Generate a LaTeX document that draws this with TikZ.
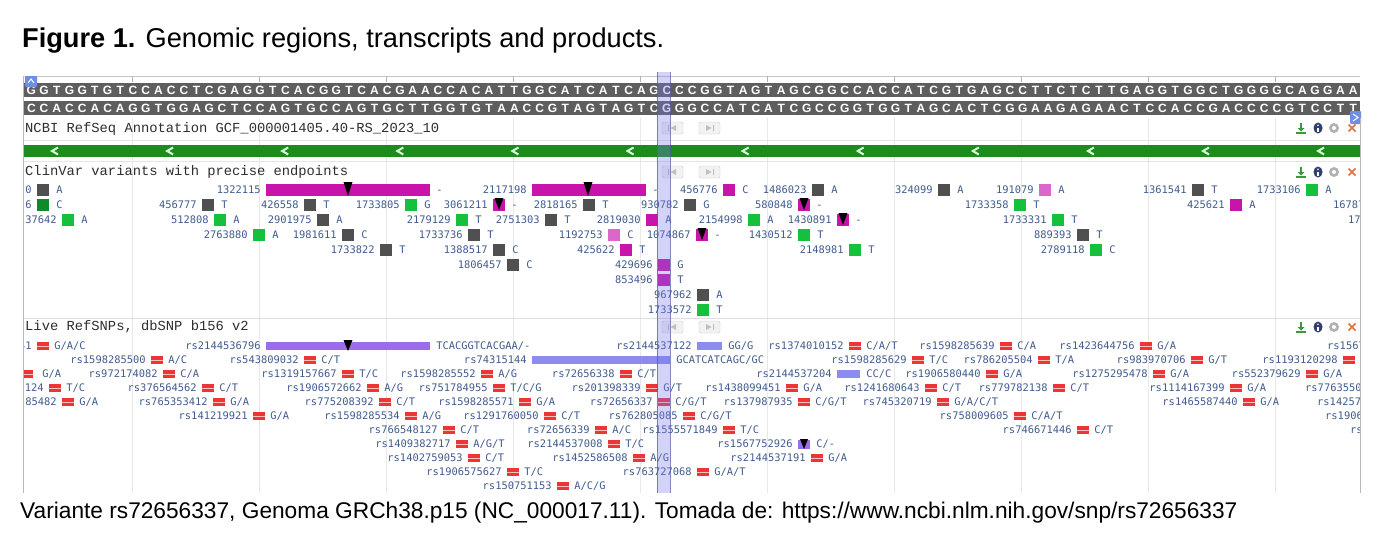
\documentclass[tikz,border=0pt]{standalone}
\usepackage{fontspec}
\setmainfont{Liberation Sans}
\newfontfamily\trackfont{Liberation Mono}
\newfontfamily\varfont{DejaVu Sans Mono}
\usetikzlibrary{positioning}

\definecolor{seqgray}{HTML}{5E5E5E}
\definecolor{refgreen}{HTML}{1E8B1E}
\definecolor{idblue}{HTML}{415C8E}
\definecolor{headgray}{HTML}{2E2E2E}
\definecolor{gridgray}{HTML}{E8E8E8}
\definecolor{cvgray}{HTML}{505050}
\definecolor{cvgreen}{HTML}{14C03C}
\definecolor{cvdkgreen}{HTML}{0E8A2A}
\definecolor{cvmag}{HTML}{C814AA}
\definecolor{cvpink}{HTML}{DD66CC}
\definecolor{snpred}{HTML}{EE3535}
\definecolor{snpviolet}{HTML}{9C6CEE}
\definecolor{snplav}{HTML}{8C8CEE}
\definecolor{hilite}{HTML}{7878F0}
\definecolor{iconblue}{HTML}{6D8FE0}
\definecolor{dlgreen}{HTML}{3A9A3A}
\definecolor{infoblue}{HTML}{2F3F6F}
\definecolor{closered}{HTML}{E07040}

\tikzset{
    seqbase/.style={text=white, inner sep=0pt, font=\bfseries\fontsize{12}{12}\selectfont},
    trackhead/.style={anchor=west, inner sep=0pt, text=headgray, font=\trackfont\fontsize{13.8}{14}\selectfont},
    navbtn/.style={draw=gray!40, fill=gray!10, rounded corners=1.5pt, minimum width=21pt, minimum height=12pt, inner sep=0pt},
    varid/.style={inner sep=0pt, text=idblue, text height=7.4pt, text depth=0pt, font=\varfont\fontsize{10.4}{10.4}\selectfont},
    allele/.style={varid},
    cvbox/.style={inner sep=0pt, minimum width=12pt, minimum height=12pt},
    snpbox/.style={inner sep=0pt, minimum width=12pt, minimum height=7.5pt, fill=snpred},
    rangebar/.style={inner sep=0pt, minimum height=12pt, fill=cvmag},
    snprange/.style={inner sep=0pt, minimum height=7.5pt},
    pinmark/.style={fill=black},
    gridline/.style={draw=gridgray},
}

\begin{document}
\begin{tikzpicture}[x=1pt, y=-1pt]
    \useasboundingbox (0,0) rectangle (1389,543);
    \fill[white] (0,0) rectangle (1389,543);

    \node[anchor=base west, inner sep=0pt, font=\fontsize{27.2}{32}\selectfont] (title) at (22,48)
        {\textbf{Figure 1.} Genomic regions, transcripts and products.};

    \node[anchor=base west, inner sep=0pt, font=\fontsize{22.7}{26}\selectfont] (caption) at (20,518)
        {Variante rs72656337, Genoma GRCh38.p15 (NC\_000017.11). Tomada de: https://www.ncbi.nlm.nih.gov/snp/rs72656337};

    % ruler and grid
    \draw[gray!45] (23,76) -- (1360,76);
    \foreach \g in {0,...,9} {
        \draw[gray!60] ({132+127*\g},76) -- ({132+127*\g},82);
        \draw[gridline] ({132+127*\g},118) -- ({132+127*\g},493);
    }
    \draw[gray!20] (23,140) -- (1360,140);
    \draw[gray!20] (23,161) -- (1360,161);
    \draw[gray!25] (23,318) -- (1360,318);

    % sequence
    \fill[seqgray] (23,83) rectangle (1360,97);
    \fill[seqgray] (23,101) rectangle (1360,115);
    \foreach \base [count=\i] in {G,G,T,G,G,T,G,T,C,C,A,C,C,T,C,G,A,G,G,T,C,A,C,G,G,T,C,A,C,G,A,A,C,C,A,C,A,T,T,G,G,C,A,T,C,A,T,C,A,G,C,C,C,G,G,T,A,G,T,A,G,C,G,G,C,C,A,C,C,A,T,C,G,T,G,A,G,C,C,T,T,C,T,C,T,T,G,A,G,G,T,G,G,C,T,G,G,G,G,C,A,G,G,A,A}
        \node[seqbase] (fw\i) at ({18.645+12.71*\i},90) {\base};
    \foreach \base [count=\i] in {C,C,A,C,C,A,C,A,G,G,T,G,G,A,G,C,T,C,C,A,G,T,G,C,C,A,G,T,G,C,T,T,G,G,T,G,T,A,A,C,C,G,T,A,G,T,A,G,T,C,G,G,G,C,C,A,T,C,A,T,C,G,C,C,G,G,T,G,G,T,A,G,C,A,C,T,C,G,G,A,A,G,A,G,A,A,C,T,C,C,A,C,C,G,A,C,C,C,C,G,T,C,C,T,T}
        \node[seqbase] (rv\i) at ({18.645+12.71*\i},108) {\base};
    \fill[iconblue, rounded corners=1pt] (25,76) rectangle (37,87);
    \draw[white, line width=1pt] (28,83) -- (31,79) -- (34,83);
    \fill[iconblue, rounded corners=1pt] (1350,111) rectangle (1361,124);
    \draw[white, line width=1pt] (1353,114) -- (1358,117.5) -- (1353,121);

    % track headers
    \node[trackhead] (refseq) at (25,129) {NCBI RefSeq Annotation GCF\_000001405.40-RS\_2023\_10};
    \node[trackhead] (clinvar) at (25,172) {ClinVar variants with precise endpoints};
    \node[trackhead] (snp) at (25,327) {Live RefSNPs, dbSNP b156 v2};
    \foreach \hy/\hname in {128/refseq, 172/clinvar, 327/snp} {
        \node[navbtn] (\hname-prev) at (672.5,\hy) {};
        \node[navbtn] (\hname-next) at (709.5,\hy) {};
        \fill[gray!50] (668,\hy-3) rectangle (669,\hy+3) (676,\hy-3) -- (676,\hy+3) -- (670.5,\hy) -- cycle;
        \fill[gray!50] (714,\hy-3) rectangle (713,\hy+3) (706,\hy-3) -- (706,\hy+3) -- (711.5,\hy) -- cycle;
        \draw[dlgreen, line width=1.2pt] (1301,\hy-5) -- (1301,\hy+1) (1296,\hy+5) -- (1306,\hy+5);
        \fill[dlgreen] (1297.5,\hy) -- (1304.5,\hy) -- (1301,\hy+3.5) -- cycle;
        \fill[infoblue] (1318,\hy) ellipse (4.5 and 5.5);
        \fill[white] (1317.2,\hy-0.5) rectangle (1318.8,\hy+3.5);
        \fill[white] (1318,\hy-2.8) circle (0.9);
        \fill[gray!60] (1334,\hy) circle (5);
        \fill[white] (1334,\hy) circle (2);
        \draw[closered, line width=1.5pt] (1348.5,\hy-3.5) -- (1355.5,\hy+3.5) (1348.5,\hy+3.5) -- (1355.5,\hy-3.5);
    }

    % gene track
    \fill[refgreen] (23,145) rectangle (1360,157);
    \foreach \g in {0,...,11}
        \draw[green!15!white, line width=2pt] ({58+115.1*\g},147.5) -- ({52+115.1*\g},151) -- ({58+115.1*\g},154.5);

    \begin{scope}
        \clip (23,162) rectangle (1360,493);

        % clinvar
        \foreach \x/\y/\id/\col/\al in {37/190/0/cvgray/A, 723/190/456776/cvmag/C, 812/190/1486023/cvgray/A,
            938/190/324099/cvgray/A, 1039/190/191079/cvpink/A, 1192/190/1361541/cvgray/T, 1306/190/1733106/cvgreen/A,
            37/205/6/cvdkgreen/C, 202/205/456777/cvgray/T, 304/205/426558/cvgray/T, 405/205/1733805/cvgreen/G,
            583/205/2818165/cvgray/T, 684/205/930782/cvgray/G, 1014/205/1733358/cvgreen/T, 1230/205/425621/cvmag/A,
            62/220/37642/cvgreen/A, 214/220/512808/cvgreen/A, 317/220/2901975/cvgray/A, 456/220/2179129/cvgreen/T,
            545/220/2751303/cvgray/T, 646/220/2819030/cvmag/A, 748/220/2154998/cvgreen/A, 1052/220/1733331/cvgreen/T,
            253/235/2763880/cvgreen/A, 342/235/1981611/cvgray/C, 468/235/1733736/cvgray/T, 608/235/1192753/cvpink/C,
            798/235/1430512/cvgreen/T, 1077/235/889393/cvgray/T,
            380/250/1733822/cvgray/T, 493/250/1388517/cvgray/C, 620/250/425622/cvmag/T, 849/250/2148981/cvgreen/T,
            1090/250/2789118/cvgreen/C,
            507/265/1806457/cvgray/C, 658/265/429696/cvmag/G, 658/280/853496/cvmag/T,
            697/295/967962/cvgray/A, 697/310/1733572/cvgreen/T} {
            \node[cvbox, fill=\col] (cv\id) at (\x+6,\y) {};
            \node[varid, left=5pt of cv\id] (cv\id-lbl) {\id};
            \node[allele, right=7pt of cv\id] (cv\id-al) {\al};
        }
        \foreach \x/\y/\id in {493/205/3061211, 798/205/580848, 837/220/1430891, 696/235/1074867} {
            \node[cvbox, fill=cvmag] (cv\id) at (\x+6,\y) {};
            \fill[pinmark] (\x+1.5,\y-7) -- (\x+10.5,\y-7) -- (\x+6,\y+5) -- cycle;
            \node[varid, left=5pt of cv\id] (cv\id-lbl) {\id};
            \node[allele, right=6pt of cv\id] (cv\id-al) {-};
        }
        \foreach \bx/\bw/\id/\pin in {348/164/1322115/348, 589/114/2117198/588} {
            \node[rangebar, minimum width=\bw pt] (cv\id) at (\bx,190) {};
            \fill[pinmark] (\pin-4.5,182) -- (\pin+4.5,182) -- (\pin,196) -- cycle;
            \node[varid, left=5pt of cv\id] (cv\id-lbl) {\id};
            \node[allele, right=6pt of cv\id] (cv\id-al) {-};
        }
        \node[varid, anchor=west] (cv16787) at (1333,205) {16787};
        \node[varid, anchor=west] (cv17) at (1348,220) {17};

        % dbsnp
        \foreach \x/\y/\id/\al in {37/346/41/{G/A/C}, 849/346/rs1374010152/{C/A/T}, 1000/346/rs1598285639/{C/A},
            1140/346/rs1423644756/{G/A},
            151/360/rs1598285500/{A/C}, 304/360/rs543809032/{C/T}, 912/360/rs1598285629/{T/C},
            1038/360/rs786205504/{T/A}, 1191/360/rs983970706/{G/T}, 1343/360/rs1193120298/{},
            163/374/rs972174082/{C/A}, 342/374/rs1319157667/{T/C}, 481/374/rs1598285552/{A/G},
            620/374/rs72656338/{C/T}, 986/374/rs1906580440/{G/A}, 1153/374/rs1275295478/{G/A},
            1306/374/rs552379629/{G/A},
            49/388/124/{T/C}, 202/388/rs376564562/{C/T}, 367/388/rs1906572662/{A/G}, 493/388/rs751784955/{T/C/G},
            646/388/rs201398339/{G/T}, 786/388/rs1438099451/{G/A}, 925/388/rs1241680643/{C/T},
            1053/388/rs779782138/{C/T}, 1230/388/rs1114167399/{G/A},
            62/402/85482/{G/A}, 213/402/rs765353412/{G/A}, 379/402/rs775208392/{C/T}, 519/402/rs1598285571/{G/A},
            658/402/rs72656337/{C/G/T}, 798/402/rs137987935/{C/G/T}, 937/402/rs745320719/{G/A/C/T},
            1243/402/rs1465587440/{G/A},
            253/416/rs141219921/{G/A}, 405/416/rs1598285534/{A/G}, 544/416/rs1291760050/{C/T},
            683/416/rs762805085/{C/G/T}, 1014/416/rs758009605/{C/A/T},
            443/430/rs766548127/{C/T}, 595/430/rs72656339/{A/C}, 723/430/rs1555571849/{T/C}, 1077/430/rs746671446/{C/T},
            456/444/rs1409382717/{A/G/T}, 608/444/rs2144537008/{T/C},
            468/458/rs1402759053/{C/T}, 633/458/rs1452586508/{A/G}, 811/458/rs2144537191/{G/A},
            507/472/rs1906575627/{T/C}, 697/472/rs763727068/{G/A/T},
            557/486/rs150751153/{A/C/G}} {
            \node[snpbox] (\id) at (\x+6,\y) {};
            \draw[red!25!white, line width=0.8pt] (\id.west) -- (\id.east);
            \node[varid, left=5pt of \id] (\id-lbl) {\id};
            \node[allele, right=5pt of \id] (\id-al) {\al};
        }
        \node[snpbox] (snpedge) at (27,374) {};
        \draw[red!25!white, line width=0.8pt] (snpedge.west) -- (snpedge.east);
        \node[allele, right=9pt of snpedge] (snpedge-al) {G/A};
        \foreach \bx/\bw/\y/\id/\col/\al in {348/164/346/rs2144536796/snpviolet/{TCACGGTCACGAA/-},
            709.5/25/346/rs2144537122/snplav/{GG/G}, 601/138/360/rs74315144/snplav/{GCATCATCAGC/GC},
            848.5/23/374/rs2144537204/snplav/{CC/C}} {
            \node[snprange, fill=\col, minimum width=\bw pt] (\id) at (\bx,\y) {};
            \node[varid, left=5pt of \id] (\id-lbl) {\id};
            \node[allele, right=6pt of \id] (\id-al) {\al};
        }
        \fill[pinmark] (343.5,340) -- (352.5,340) -- (348,351) -- cycle;
        \node[inner sep=0pt, minimum width=12pt, minimum height=9pt, fill=snpviolet] (rs1567752926) at (804,444) {};
        \fill[pinmark] (800,439) -- (808,439) -- (804,449) -- cycle;
        \node[varid, left=5pt of rs1567752926] (rs1567752926-lbl) {rs1567752926};
        \node[allele, right=6pt of rs1567752926] (rs1567752926-al) {C/-};
        \node[varid, anchor=west] (rsr1) at (1327,346) {rs1567};
        \node[varid, anchor=west] (rsr4) at (1305,388) {rs7763550};
        \node[varid, anchor=west] (rsr5) at (1317,402) {rs14257};
        \node[varid, anchor=west] (rsr6) at (1325,416) {rs1906};
        \node[varid, anchor=west] (rsr7) at (1350,430) {rs};
    \end{scope}

    % selected column and frame
    \fill[hilite, opacity=0.32] (657,72) rectangle (670,493);
    \draw[hilite!70!black, opacity=0.7] (657,72) -- (657,493) (670,72) -- (670,493);
    \draw[gray!55] (23,76) -- (23,493);
    \draw[gray!55] (1360,118) -- (1360,493);
\end{tikzpicture}
\end{document}
